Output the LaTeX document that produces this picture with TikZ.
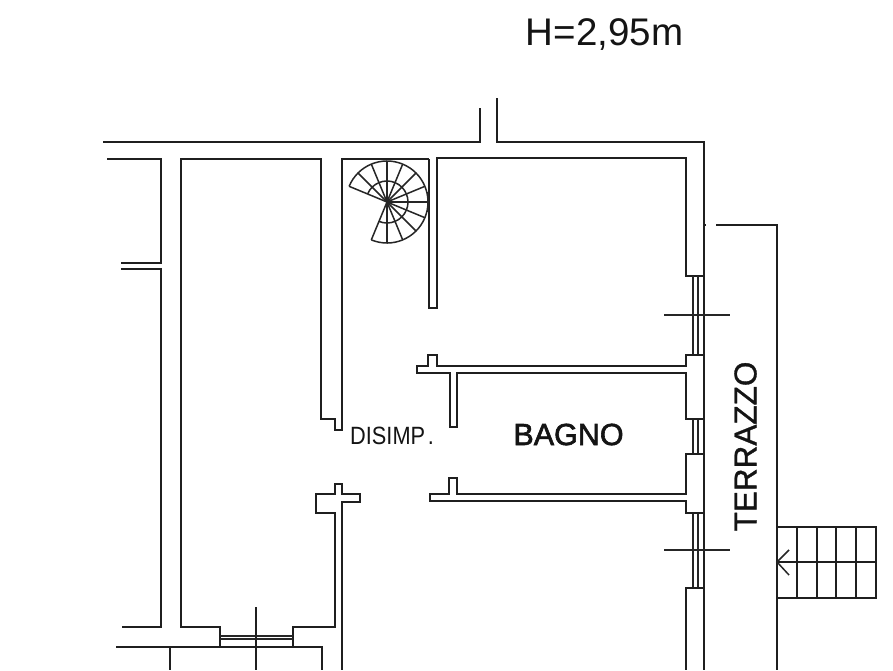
\documentclass[tikz,border=0pt]{standalone}
\usepackage{fontspec}
\setmainfont{Liberation Sans}
\newfontfamily\medfont[FakeBold=2]{Liberation Sans}
\newfontfamily\semifont[FakeBold=1]{Liberation Sans}
\tikzset{
  wall/.style={line width=1.9pt,draw=black!88,line join=miter},
  thin wall/.style={line width=1.5pt,draw=black!85},
  glass/.style={line width=1.2pt,draw=black!85},
  lab/.style={inner sep=0pt,text=black!92},
}
\begin{document}
\begin{tikzpicture}[x=1pt,y=-1pt]
\useasboundingbox[fill=white] (0,0) rectangle (893,670);
% texts
\node[lab,font=\fontsize{38.5}{38.5}\selectfont] (h) at (604.5,34.5) {H=2,95m};
\node[lab,font=\fontsize{25}{25}\selectfont,xscale=0.87] (dis) at (392,436) {DISIMP\kern3pt.};
\node[lab,font=\medfont\fontsize{30.5}{30.5}\selectfont] (bagno) at (568.5,434.5) {BAGNO};
\node[lab,font=\semifont\fontsize{31.5}{31.5}\selectfont,rotate=90] (terr) at (745.5,446.5) {TERRAZZO};
% outer wall
\draw[wall] (103,142) -- (480,142) -- (480,108);
\draw[wall] (497,98) -- (497,142) -- (704,142) -- (704,670);
\draw[wall] (704,225) -- (706,225);
\draw[wall] (716,225) -- (777,225) -- (777,670);
% upper-right room
\draw[wall] (429,159) -- (429,308) -- (437,308) -- (437,158) -- (686,158) -- (686,276) -- (704,276);
% windows
\draw[glass] (693,276) -- (693,355) (698,276) -- (698,355);
\draw[thin wall] (664,315) -- (730,315);
\draw[glass] (693,419) -- (693,454) (698,419) -- (698,454);
\draw[glass] (693,513) -- (693,588) (698,513) -- (698,588);
\draw[thin wall] (664,550) -- (730,550);
% bathroom
\draw[wall] (704,355) -- (686,355) -- (686,366) -- (437,366) -- (437,355) -- (428,355) -- (428,366) -- (417,366) -- (417,373) -- (450,373) -- (450,427) -- (457,427) -- (457,373) -- (686,373) -- (686,419) -- (704,419);
\draw[wall] (704,454) -- (686,454) -- (686,494) -- (457,494) -- (457,478) -- (449,478) -- (449,494) -- (430,494) -- (430,501) -- (686,501) -- (686,513) -- (704,513);
\draw[wall] (704,588) -- (686,588) -- (686,670);
% central corridor walls
\draw[wall] (429,159) -- (342,159) -- (342,430) -- (335,430) -- (335,419) -- (321,419) -- (321,159) -- (181,159) -- (181,627) -- (220,627) -- (220,647);
\draw[wall] (293,647) -- (293,627) -- (335,627) -- (335,513) -- (316,513) -- (316,494) -- (335,494) -- (335,484) -- (342,484) -- (342,494) -- (360,494) -- (360,502) -- (342,502) -- (342,670);
\draw[glass] (220,636) -- (293,636) (220,639) -- (293,639);
% left
\draw[wall] (107,159) -- (161,159) -- (161,263) -- (121,263);
\draw[wall] (121,269) -- (161,269) -- (161,627) -- (122,627);
% bottom
\draw[wall] (116,647) -- (322,647) -- (322,670);
\draw[wall] (170,647) -- (170,670);
\draw[wall] (256,607) -- (256,670);
% external stair
\draw[wall] (777,527) -- (876,527) -- (876,598) -- (777,598);
\draw[wall] (777,562) -- (876,562);
\foreach \sx in {797,817,836,856} \draw[wall] (\sx,527) -- (\sx,598);
\draw[thin wall] (789,550) -- (777,562) -- (789,575);
% spiral stair
\foreach \a in {157.5,135,...,-112.5}
  \draw[thin wall] (387,202) -- ++({41*cos(\a)},{-41*sin(\a)});
\draw[thin wall] (387,202) ++ ({41*cos(157.5)},{-41*sin(157.5)}) arc[start angle=-157.5,end angle=112.5,radius=41];
\draw[thin wall] (387,202) ++ ({21*cos(157.5)},{-21*sin(157.5)}) arc[start angle=-157.5,end angle=112.5,radius=21];
\draw[line width=2.6pt,draw=black!85] (428,192) -- (428,212);
\end{tikzpicture}
\end{document}
